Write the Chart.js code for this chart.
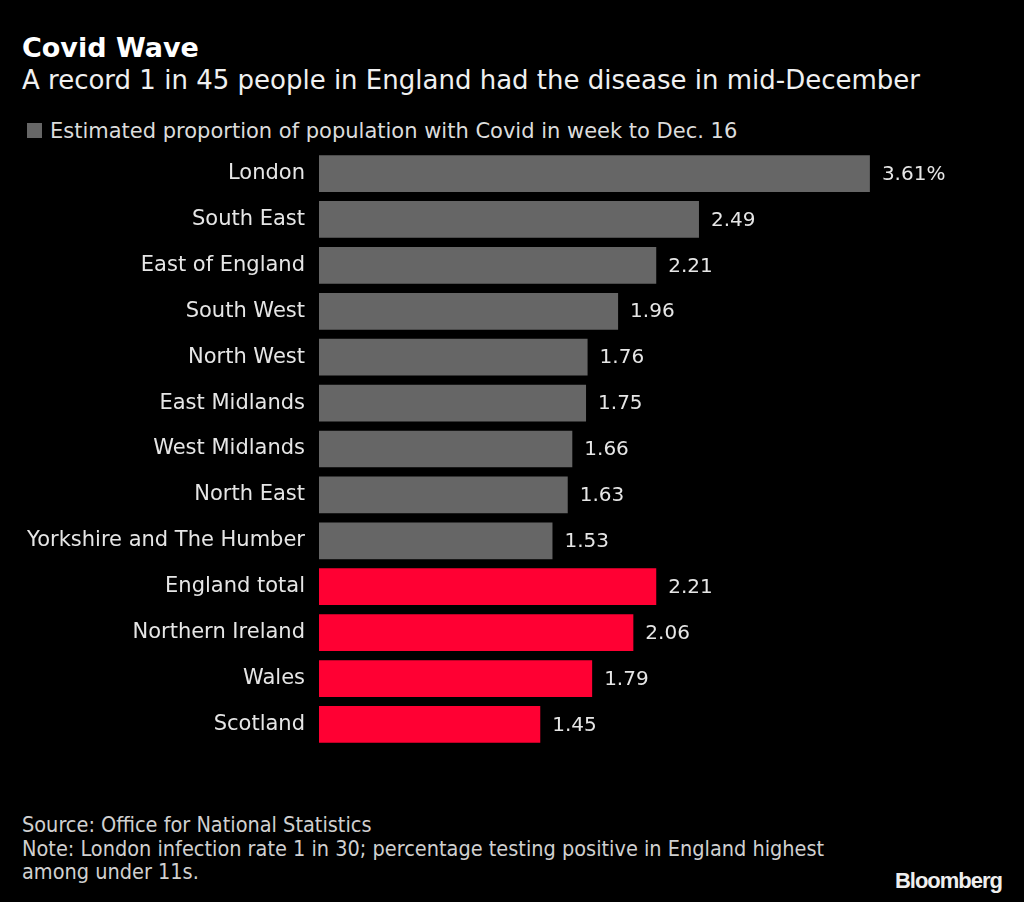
<!DOCTYPE html>
<html>
<head>
<meta charset="utf-8">
<script src="https://cdn.jsdelivr.net/npm/chart.js@4"></script>
<style>
  body { margin: 0; background: #000; width: 1024px; height: 902px; position: relative; overflow: hidden; font-family: "DejaVu Sans", sans-serif; color: #e6e6e6; }
  #title { position: absolute; left: 22px; top: 32px; font-size: 27px; font-weight: bold; color: #fff; }
  #subtitle { position: absolute; left: 22px; top: 65px; font-size: 26px; color: #f0f0f0; }
  #legend { position: absolute; left: 27px; top: 119px; font-size: 21px; color: #dcdcdc; }
  #legend span { display: inline-block; width: 15px; height: 15px; background: #666; margin-right: 8px; vertical-align: 0px; }
  #chart-box { position: absolute; left: 0; top: 132px; width: 1024px; height: 634px; }
  #footer { position: absolute; left: 22px; top: 813px; font-size: 21.5px; line-height: 23.5px; color: #d0d0d0; font-family: "DejaVu Sans Condensed", "DejaVu Sans", sans-serif; }
  #logo { position: absolute; right: 22px; top: 868px; font-size: 22px; font-weight: bold; color: #eee; font-family: "Liberation Sans", sans-serif; letter-spacing: -1px; }
</style>
</head>
<body>
<div id="title">Covid Wave</div>
<div id="subtitle">A record 1 in 45 people in England had the disease in mid-December</div>
<div id="legend"><span></span>Estimated proportion of population with Covid in week to Dec. 16</div>
<div id="chart-box"><canvas id="chart"></canvas></div>
<div id="footer">Source: Office for National Statistics<br>Note: London infection rate 1 in 30; percentage testing positive in England highest<br>among under 11s.</div>
<div id="logo">Bloomberg</div>
<script>
// Regions and estimated share of population with Covid (%)
const regions = ['London', 'South East', 'East of England', 'South West', 'North West', 'East Midlands',
  'West Midlands', 'North East', 'Yorkshire and The Humber', 'England total', 'Northern Ireland', 'Wales', 'Scotland'];
const values = [3.61, 2.49, 2.21, 1.96, 1.76, 1.75, 1.66, 1.63, 1.53, 2.21, 2.06, 1.79, 1.45];
const valueLabels = ['3.61%', '2.49', '2.21', '1.96', '1.76', '1.75', '1.66', '1.63', '1.53', '2.21', '2.06', '1.79', '1.45'];
const nationStart = 9; // first entry drawn in red

const barColors = regions.map((r, i) => i >= nationStart ? '#ff0033' : '#666666');

// draw the value next to the end of each bar
const valueLabelPlugin = {
  id: 'valueLabels',
  afterDatasetsDraw(chart) {
    const ctx = chart.ctx;
    const meta = chart.getDatasetMeta(0);
    ctx.save();
    ctx.font = '20px "DejaVu Sans", sans-serif';
    ctx.fillStyle = '#e6e6e6';
    ctx.textBaseline = 'middle';
    meta.data.forEach((bar, i) => {
      ctx.fillText(valueLabels[i], bar.x + 12, bar.y + 1);
    });
    ctx.restore();
  }
};

new Chart(document.getElementById('chart'), {
  type: 'bar',
  data: {
    labels: regions,
    datasets: [{
      data: values,
      backgroundColor: barColors,
      barPercentage: 0.8,
      categoryPercentage: 1.0
    }]
  },
  options: {
    indexAxis: 'y',
    responsive: true,
    maintainAspectRatio: false,
    animation: false,
    layout: { padding: 0 },
    plugins: { legend: { display: false }, tooltip: { enabled: false } },
    scales: {
      x: {
        display: false,
        min: 0,
        max: 4.62
      },
      y: {
        grid: { display: false },
        border: { display: false },
        ticks: {
          color: '#e6e6e6',
          padding: 6,
          font: { family: '"DejaVu Sans", sans-serif', size: 21 }
        },
        afterFit(scale) { scale.width = 319; }
      }
    }
  },
  plugins: [valueLabelPlugin]
});
</script>
</body>
</html>
